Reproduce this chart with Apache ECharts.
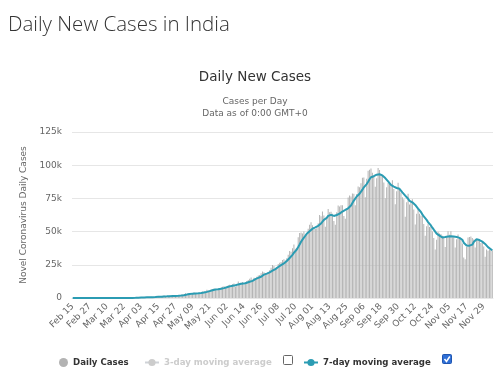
<!DOCTYPE html>
<html><head><meta charset="utf-8">
<script src="https://cdn.jsdelivr.net/npm/echarts@6/dist/echarts.min.js"></script>
<style>html,body{margin:0;padding:0;background:#fff}#c{width:500px;height:389px}</style>
</head><body><div id="c"></div>
<script>
// ---- data (daily new cases, Feb 15 – Dec 5) ----
const startYear = 2020, startMonth = 1, startDay = 15;
const monthNames = ['Jan','Feb','Mar','Apr','May','Jun','Jul','Aug','Sep','Oct','Nov','Dec'];
const febCases = [0,0,0,0,0,0,0,0,0,0,0,0,0,0,0];
const marCases = [0,2,1,23,2,1,3,5,4,13,6,11,9,20,11,15,23,14,38,50,86,66,103,37,121,70,160,100,106,227,146];
const aprCases = [601,545,478,500,505,704,508,485,591,896,768,758,1248,1034,835,1108,922,1370,1893,924,1541,1290,1667,1408,1835,1607,1561,1873,1738,1801];
const mayCases = [2396,2564,2952,3656,2971,3602,3344,3339,3175,4311,3592,3562,3726,3942,3787,4864,5050,4630,6147,5611,6088,6654,6767,7113,6414,5843,7293,7300,8105,8380,8789];
const junCases = [7723,8821,9633,9889,9471,10438,10864,8442,10218,12375,11128,11458,12000,10190,10667,12881,13586,14516,15413,13281,15183,14933,15968,16922,17296,18552,19906,19459,18339,18256];
const julCases = [19428,20903,22771,24850,24015,22252,23135,25571,26506,27114,28637,29108,28178,29917,32607,35468,34820,37411,40235,37148,37724,45720,48916,49310,48661,50072,47703,48513,52123,55078,57118];
const augCases = [54735,52972,52050,52509,56282,62538,61537,65156,62064,53601,60963,66999,64553,65002,63490,57981,55079,64531,69652,68900,69876,69874,61749,59696,67151,75760,77266,76472,78761,78512,69921];
const sepCases = [78357,83883,83341,86432,90632,90802,75809,89706,95735,96551,97570,94372,92071,83809,90123,97894,96424,93337,92605,86961,75083,83347,86508,86052,85362,88600,82170,70589,80472,86821];
const octCases = [81484,79476,75829,74442,61267,72049,78524,70496,73272,74383,66732,55342,63509,67708,63371,62212,61871,55722,46790,54044,56154,53370,54366,50129,45148,36470,43893,49881,48648,48268,46963];
const novCases = [45231,38310,46253,50210,47638,50357,45674,45903,38073,44281,47905,44879,44878,41100,30548,29164,38617,45576,45882,46232,45209,44059,37975,44376,44489,43082,41322,41810,38772,31118];
const decCases = [36604,35551,36595,36652,36011];
const yTickValues = [0,25000,50000,75000,100000,125000];

const dailyCases = [].concat(febCases, marCases, aprCases, mayCases, junCases, julCases, augCases, sepCases, octCases, novCases, decCases);

const categories = [];
for (let i = 0; i < dailyCases.length; i++) {
  const d = new Date(Date.UTC(startYear, startMonth, startDay + i));
  categories.push(monthNames[d.getUTCMonth()] + ' ' + String(d.getUTCDate()).padStart(2, '0'));
}
// 7-day moving average of the daily series
const avg7 = dailyCases.map((v, i) => {
  const s = dailyCases.slice(Math.max(0, i - 6), i + 1);
  return Math.round(s.reduce((a, b) => a + b, 0) / s.length);
});

const TEAL = '#2b9cb3';
const chart = echarts.init(document.getElementById('c'), null, {renderer: 'canvas'});
const legendText = {fontFamily: 'DejaVu Sans', fontWeight: 'bold', fontSize: 8.6, color: '#333'};
chart.setOption({
  animation: false,
  textStyle: {fontFamily: 'DejaVu Sans'},
  grid: {left: 72, right: 7, top: 132, bottom: 91},
  xAxis: {
    type: 'category', data: categories, boundaryGap: true,
    axisLine: {show: true, lineStyle: {color: '#e6e6e6'}},
    axisTick: {show: false},
    axisLabel: {interval: 11, rotate: 45, fontSize: 9, color: '#666', margin: 7}
  },
  yAxis: {
    type: 'value', min: yTickValues[0], max: yTickValues[yTickValues.length - 1], interval: yTickValues[1] - yTickValues[0],
    name: 'Novel Coronavirus Daily Cases', nameLocation: 'middle', nameGap: 44,
    nameTextStyle: {fontSize: 9, color: '#666'},
    axisLine: {show: false}, axisTick: {show: false},
    axisLabel: {fontSize: 9, color: '#666', margin: 10, formatter: v => v === 0 ? '0' : (v / 1000) + 'k'},
    splitLine: {lineStyle: {color: '#e6e6e6'}}
  },
  legend: [
    {data: ['Daily Cases'], left: 54, top: 353, icon: 'circle', itemWidth: 9, itemHeight: 9, textStyle: legendText, inactiveColor: '#ccc'},
    {data: ['3-day moving average'], left: 139, top: 353, itemWidth: 14, itemHeight: 9, textStyle: legendText, inactiveColor: '#ccc',
     selected: {'3-day moving average': false}},
    {data: ['7-day moving average'], left: 298, top: 353, itemWidth: 14, itemHeight: 9, textStyle: legendText, inactiveColor: '#ccc'}
  ],
  series: [
    {name: 'Daily Cases', type: 'bar', data: dailyCases, barCategoryGap: '35%', itemStyle: {color: '#b3b3b3'}},
    {name: '3-day moving average', type: 'line', data: [], symbol: 'circle', symbolSize: 4, itemStyle: {color: '#aaa'}, lineStyle: {color: '#aaa'}},
    {name: '7-day moving average', type: 'line', data: avg7, symbol: 'circle', symbolSize: 4, showSymbol: false,
     lineStyle: {color: TEAL, width: 2}, itemStyle: {color: TEAL}, z: 5}
  ],
  graphic: [
    {type: 'text', left: 8, top: 15, style: {text: 'Daily New Cases in India', font: '300 20.5px "Open Sans"', fill: '#333'}},
    {type: 'text', x: 255, y: 77, style: {text: 'Daily New Cases', font: '13.5px "DejaVu Sans"', fill: '#333', align: 'center', verticalAlign: 'middle'}},
    {type: 'text', x: 255, y: 102, style: {text: 'Cases per Day', font: '9px "DejaVu Sans"', fill: '#666', align: 'center', verticalAlign: 'middle'}},
    {type: 'text', x: 255, y: 113.5, style: {text: 'Data as of 0:00 GMT+0', font: '9px "DejaVu Sans"', fill: '#666', align: 'center', verticalAlign: 'middle'}},
    {type: 'rect', shape: {x: 283.5, y: 355.5, width: 9, height: 9, r: 1}, style: {fill: '#fff', stroke: '#666', lineWidth: 1}},
    {type: 'rect', shape: {x: 442.5, y: 354.5, width: 9, height: 9, r: 1}, style: {fill: '#2f6fd6', stroke: '#1f55b0', lineWidth: 1}},
    {type: 'polyline', shape: {points: [[444.5, 359], [446.5, 361.5], [449.8, 356.5]]}, style: {stroke: '#fff', lineWidth: 1.5, fill: null}}
  ]
});
</script></body></html>
